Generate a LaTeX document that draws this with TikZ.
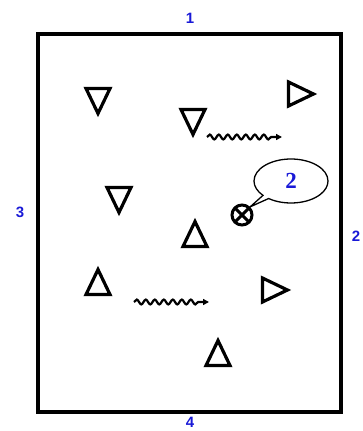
\documentclass[tikz,border=0pt]{standalone}
\usepackage{fontspec}
\setmainfont{Liberation Serif}
\setsansfont{Liberation Sans}
\usetikzlibrary{shapes.geometric,shapes.callouts,decorations.pathmorphing,arrows.meta}
\definecolor{numblue}{RGB}{25,25,215}

\tikzset{
  cone/.style={draw, isosceles triangle, isosceles triangle stretches, minimum width=24pt, minimum height=25pt,
    inner sep=0pt, line width=3.2pt, shape border rotate=#1},
  run/.style={line width=2.2pt, decorate, decoration={snake, amplitude=2.4pt, segment length=9pt, post length=7pt},
    -{Triangle[length=6pt,width=6pt]}},
  side/.style={text=numblue, font=\sffamily\bfseries\fontsize{15}{15}\selectfont}
}

\begin{document}
\begin{tikzpicture}[x=1pt,y=-1pt]
        % \draw[help lines, gray!50, very thin] (0,0) grid[step=20] (363,431);
        \useasboundingbox (0,0) rectangle (363,431);

        \draw[line width=3.4pt] (38,34) rectangle (341,412);
        \node[side] (s1) at (190,18) {1};
        \node[side] (s2) at (356,236) {2};
        \node[side] (s3) at (20,212) {3};
        \node[side] (s4) at (190,422) {4};

        \node[cone=-90] (c1) at (98,96) {};
        \node[cone=-90] (c2) at (193,117) {};
        \node[cone=-12] (c3) at (296,94) {};
        \node[cone=-90] (c4) at (119,195) {};
        \node[cone=90] (c5) at (195,239) {};
        \node[cone=90] (c6) at (98,287) {};
        \node[cone=0] (c7) at (270,290) {};
        \node[cone=90] (c8) at (218,358) {};

        \node[draw, circle, line width=3pt, minimum size=20pt, inner sep=0pt,
          path picture={\draw[line width=3pt] (path picture bounding box.north west) -- (path picture bounding box.south east)
            (path picture bounding box.north east) -- (path picture bounding box.south west);}] (ball) at (242,215) {};
        \node[ellipse callout, draw, line width=1.3pt, minimum width=74pt, minimum height=44pt,
          callout absolute pointer=(ball.north east), callout pointer arc=12, text=numblue,
          font=\bfseries\fontsize{23}{23}\selectfont] (bubble) at (291,181) {2};

        \coordinate (r1a) at (207,137);
        \coordinate (r1b) at (282,137);
        \draw[run] (r1a) -- (r1b);
        \coordinate (r2a) at (134,302);
        \coordinate (r2b) at (209,302);
        \draw[run] (r2a) -- (r2b);
      \end{tikzpicture}
\end{document}
